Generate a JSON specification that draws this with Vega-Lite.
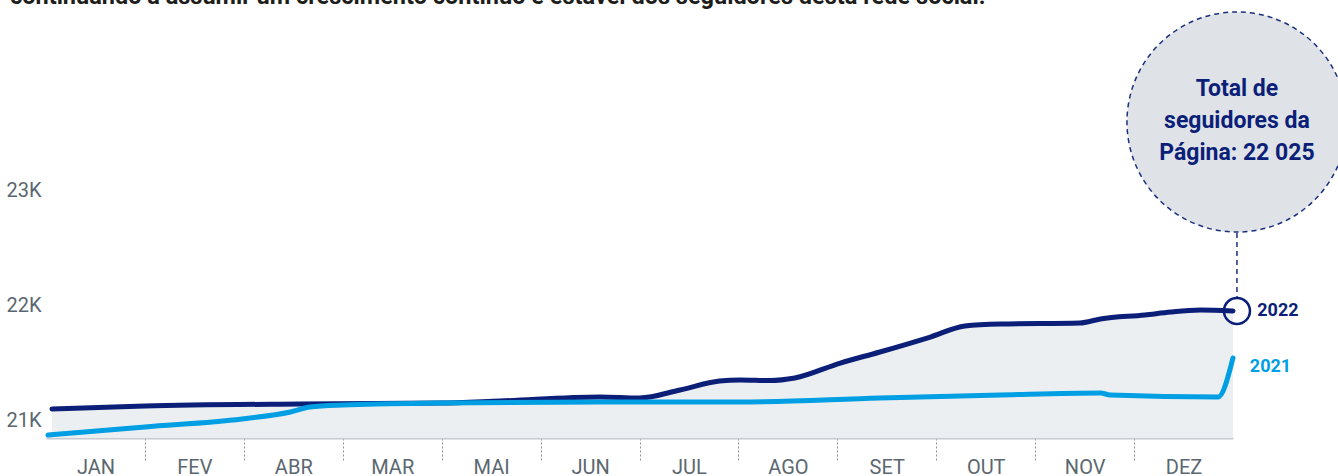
{
  "$schema": "https://vega.github.io/schema/vega-lite/v6.json",
  "width": 1187,
  "height": 428,
  "autosize": "none",
  "padding": {"left": 46, "top": 10, "right": 105, "bottom": 38},
  "config": {
    "view": {"stroke": null},
    "font": "Roboto, sans-serif"
  },
  "datasets": {
    "series": [
      {"year": "2022", "m": 0.06, "v": 21104},
      {"year": "2022", "m": 1.0, "v": 21130},
      {"year": "2022", "m": 2.57, "v": 21148},
      {"year": "2022", "m": 3.98, "v": 21156},
      {"year": "2022", "m": 4.59, "v": 21174},
      {"year": "2022", "m": 5.6, "v": 21209},
      {"year": "2022", "m": 6.0, "v": 21200},
      {"year": "2022", "m": 6.41, "v": 21270},
      {"year": "2022", "m": 6.81, "v": 21348},
      {"year": "2022", "m": 7.02, "v": 21357},
      {"year": "2022", "m": 7.32, "v": 21352},
      {"year": "2022", "m": 7.57, "v": 21374},
      {"year": "2022", "m": 8.03, "v": 21504},
      {"year": "2022", "m": 8.43, "v": 21600},
      {"year": "2022", "m": 8.94, "v": 21730},
      {"year": "2022", "m": 9.29, "v": 21826},
      {"year": "2022", "m": 9.65, "v": 21843},
      {"year": "2022", "m": 10.45, "v": 21852},
      {"year": "2022", "m": 10.66, "v": 21887},
      {"year": "2022", "m": 11.11, "v": 21922},
      {"year": "2022", "m": 11.37, "v": 21948},
      {"year": "2022", "m": 11.67, "v": 21965},
      {"year": "2022", "m": 12.0, "v": 21957},
      {"year": "2021", "m": 0.02, "v": 20878},
      {"year": "2021", "m": 1.0, "v": 20948},
      {"year": "2021", "m": 1.98, "v": 21017},
      {"year": "2021", "m": 2.47, "v": 21078},
      {"year": "2021", "m": 2.67, "v": 21122},
      {"year": "2021", "m": 3.0, "v": 21139},
      {"year": "2021", "m": 3.98, "v": 21156},
      {"year": "2021", "m": 5.6, "v": 21165},
      {"year": "2021", "m": 7.02, "v": 21165},
      {"year": "2021", "m": 8.43, "v": 21200},
      {"year": "2021", "m": 9.65, "v": 21226},
      {"year": "2021", "m": 10.66, "v": 21243},
      {"year": "2021", "m": 10.76, "v": 21226},
      {"year": "2021", "m": 11.85, "v": 21209},
      {"year": "2021", "m": 12.0, "v": 21548}
    ],
    "callout": [
      {"m": 12.04, "v": 23600, "tv": 23887, "top": 22635, "bottom": 22070, "end": 21957, "t": "Total de\nseguidores da\nPágina: 22 025"}
    ],
    "labels": [
      {"m": 12.245, "v": 21957, "t": "2022", "c": "#0b1f78"},
      {"m": 12.17, "v": 21470, "t": "2021", "c": "#009fe3"}
    ],
    "intro": [
      {"m": 0, "v": 24574, "t": "continuando a assumir um crescimento contínuo e estável dos seguidores desta rede social."}
    ]
  },
  "layer": [
    {
      "data": {"name": "series"},
      "transform": [{"filter": "datum.year === '2022'"}],
      "mark": {"type": "area", "color": "#eceff2", "interpolate": "monotone"},
      "encoding": {
        "x": {
          "field": "m", "type": "quantitative",
          "scale": {"domain": [0, 12], "nice": false, "zero": false},
          "axis": {
            "orient": "bottom",
            "values": [1, 2, 3, 4, 5, 6, 7, 8, 9, 10, 11],
            "labels": false, "grid": false, "title": null,
            "domain": true, "domainColor": "#c6cbd1", "domainWidth": 2,
            "ticks": true, "tickSize": 22, "tickDash": [2, 2], "tickColor": "#8c949b", "tickWidth": 1
          }
        },
        "y": {
          "field": "v", "type": "quantitative",
          "scale": {"domain": [20852, 24574], "nice": false, "zero": false},
          "axis": {
            "values": [21000, 22000, 23000],
            "labelExpr": "datum.value / 1000 + 'K'",
            "domain": false, "ticks": false, "grid": false, "title": null,
            "labelFontSize": 20, "labelColor": "#5b6770", "labelPadding": 5, "labelFont": "Roboto"
          }
        },
        "y2": {"datum": 20852}
      }
    },
    {
      "data": {"name": "series"},
      "transform": [{"filter": "datum.year === '2022'"}],
      "mark": {"type": "line", "color": "#0b1f78", "strokeWidth": 5, "interpolate": "monotone", "strokeCap": "round"},
      "encoding": {
        "x": {
          "field": "m", "type": "quantitative",
          "axis": {
            "orient": "bottom",
            "values": [0.5, 1.5, 2.5, 3.5, 4.5, 5.5, 6.5, 7.5, 8.5, 9.5, 10.5, 11.5],
            "labelExpr": "['JAN','FEV','ABR','MAR','MAI','JUN','JUL','AGO','SET','OUT','NOV','DEZ'][floor(datum.value)]",
            "domain": false, "ticks": false, "grid": false, "title": null,
            "labelFontSize": 20, "labelColor": "#5b6770", "labelPadding": 19, "labelFont": "Roboto"
          }
        },
        "y": {
          "field": "v", "type": "quantitative", "title": null,
          "axis": {
            "values": [21000, 22000, 23000],
            "labelExpr": "datum.value / 1000 + 'K'",
            "domain": false, "ticks": false, "grid": false, "title": null,
            "labelFontSize": 20, "labelColor": "#5b6770", "labelPadding": 5, "labelFont": "Roboto"
          }
        }
      }
    },
    {
      "data": {"name": "series"},
      "transform": [{"filter": "datum.year === '2021'"}],
      "mark": {"type": "line", "color": "#009fe3", "strokeWidth": 5, "interpolate": "monotone", "strokeCap": "round"},
      "encoding": {
        "x": {"field": "m", "type": "quantitative", "axis": null},
        "y": {"field": "v", "type": "quantitative", "title": null}
      }
    },
    {
      "data": {"name": "callout"},
      "mark": {"type": "rule", "color": "#1a2f7e", "strokeWidth": 1.5, "strokeDash": [5, 4]},
      "encoding": {
        "x": {"field": "m", "type": "quantitative", "axis": null},
        "y": {"field": "top", "type": "quantitative", "title": null},
        "y2": {"field": "bottom"}
      }
    },
    {
      "data": {"name": "callout"},
      "mark": {"type": "point", "shape": "circle", "size": 48400, "filled": true, "fill": "#dfe3e8", "fillOpacity": 1, "stroke": "#1a2f7e", "strokeWidth": 1.5, "strokeDash": [5, 4], "opacity": 1},
      "encoding": {
        "x": {"field": "m", "type": "quantitative", "axis": null},
        "y": {"field": "v", "type": "quantitative", "title": null}
      }
    },
    {
      "data": {"name": "callout"},
      "mark": {"type": "text", "lineBreak": "\n", "align": "center", "baseline": "middle", "fontSize": 23, "fontWeight": "bold", "lineHeight": 32, "color": "#0b1f78"},
      "encoding": {
        "x": {"field": "m", "type": "quantitative", "axis": null},
        "y": {"field": "tv", "type": "quantitative", "title": null},
        "text": {"field": "t"}
      }
    },
    {
      "data": {"name": "callout"},
      "mark": {"type": "point", "shape": "circle", "size": 676, "filled": false, "stroke": "#0b1f78", "strokeWidth": 2.5, "opacity": 1},
      "encoding": {
        "x": {"field": "m", "type": "quantitative", "axis": null},
        "y": {"field": "end", "type": "quantitative", "title": null}
      }
    },
    {
      "data": {"name": "labels"},
      "mark": {"type": "text", "align": "left", "baseline": "middle", "fontSize": 18, "fontWeight": "bold"},
      "encoding": {
        "x": {"field": "m", "type": "quantitative", "axis": null},
        "y": {"field": "v", "type": "quantitative", "title": null},
        "text": {"field": "t"},
        "color": {"field": "c", "type": "nominal", "scale": null}
      }
    },
    {
      "data": {"name": "intro"},
      "mark": {"type": "text", "align": "left", "baseline": "alphabetic", "fontSize": 23.5, "fontWeight": "bold", "color": "#1d1d1b", "dx": -36, "dy": -6},
      "encoding": {
        "x": {"field": "m", "type": "quantitative", "axis": null},
        "y": {"field": "v", "type": "quantitative", "title": null},
        "text": {"field": "t"}
      }
    }
  ],
  "resolve": {"axis": {"x": "independent"}}
}
